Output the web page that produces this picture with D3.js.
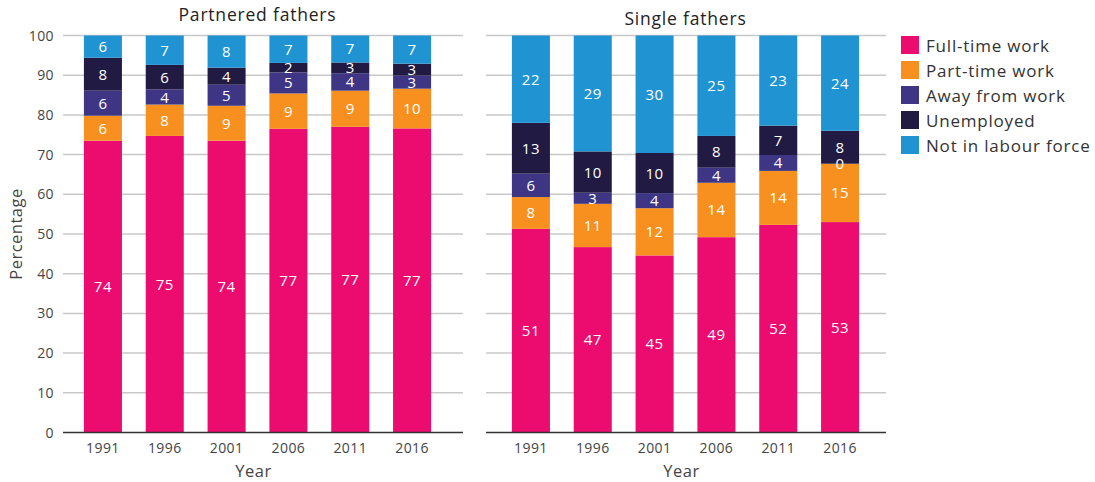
<!DOCTYPE html>
<html lang="en">
<head>
    <meta charset="UTF-8" />
    <title>Fathers' labour force status</title>
    <script src="https://d3js.org/d3.v7.min.js"></script>
    <style>
        body { margin: 0; background: #fff; }
        text { font-family: "Open Sans", "Noto Sans", sans-serif; }
    </style>
</head>
<body>
    <script>
        // years and categories
        var years = ["1991", "1996", "2001", "2006", "2011", "2016"];
        var categories = ["Full-time work", "Part-time work", "Away from work", "Unemployed", "Not in labour force"];
        var colors = ["#ec0b6f", "#f7901e", "#3e3684", "#211a42", "#2093d2"];
        var yTicks = [0, 10, 20, 30, 40, 50, 60, 70, 80, 90, 100];

        // partnered fathers (%), one array per category
        var partFullTime = [73.5, 74.7, 73.5, 76.5, 77.0, 76.6];
        var partPartTime = [6.3, 7.9, 8.8, 8.9, 9.1, 10.0];
        var partAway = [6.3, 3.8, 5.3, 5.3, 4.4, 3.3];
        var partUnemployed = [8.3, 6.2, 4.3, 2.4, 2.7, 3.0];
        var partNotInLF = [5.6, 7.4, 8.1, 6.9, 6.8, 7.1];

        // single fathers (%)
        var singFullTime = [51.3, 46.7, 44.6, 49.2, 52.3, 53.0];
        var singPartTime = [8.0, 10.9, 11.9, 13.7, 13.6, 14.7];
        var singAway = [5.9, 2.8, 3.8, 3.8, 4.0, 0.0];
        var singUnemployed = [12.8, 10.4, 10.1, 8.0, 7.4, 8.3];
        var singNotInLF = [22.0, 29.2, 29.6, 25.3, 22.7, 24.0];

        var w = 1095;
        var h = 482;

        var svg = d3.select("body")
            .append("svg")
            .attr("width", w)
            .attr("height", h);

        var yScale = d3.scaleLinear()
            .domain([0, 100])
            .range([432.5, 35.5]);

        function buildRows(series) {
            return years.map(function (y, i) {
                var row = { year: y };
                categories.forEach(function (c, j) { row[c] = series[j][i]; });
                return row;
            });
        }

        function drawPanel(gridStart, barStart, title, titleY, series, showYAxis) {
            var g = svg.append("g");
            var xScale = d3.scaleBand()
                .domain(years)
                .range([barStart, barStart + 371])
                .paddingInner(0.385)
                .paddingOuter(0.1925);

            // gridlines
            g.selectAll("line.grid")
                .data(yTicks.slice(1))
                .enter()
                .append("line")
                .attr("x1", gridStart)
                .attr("x2", gridStart + 400)
                .attr("y1", function (d) { return yScale(d); })
                .attr("y2", function (d) { return yScale(d); })
                .attr("stroke", "#c8c8c8")
                .attr("stroke-width", 1.5);

            if (showYAxis) {
                g.selectAll("text.ytick")
                    .data(yTicks)
                    .enter()
                    .append("text")
                    .attr("x", gridStart - 9)
                    .attr("y", function (d) { return yScale(d) + 5; })
                    .attr("text-anchor", "end")
                    .attr("font-size", "14px")
                    .attr("letter-spacing", "0.4px")
                    .attr("fill", "#444")
                    .text(function (d) { return d; });
            }

            var stacked = d3.stack().keys(categories)(buildRows(series));

            g.selectAll("g.layer")
                .data(stacked)
                .enter()
                .append("g")
                .attr("fill", function (d, i) { return colors[i]; })
                .selectAll("rect")
                .data(function (d) { return d; })
                .enter()
                .append("rect")
                .attr("x", function (d) { return xScale(d.data.year); })
                .attr("width", xScale.bandwidth())
                .attr("y", function (d) { return yScale(d[1]); })
                .attr("height", function (d) { return yScale(d[0]) - yScale(d[1]); });

            // labels go on top of every rect
            g.selectAll("g.lab")
                .data(stacked)
                .enter()
                .append("g")
                .selectAll("text")
                .data(function (d) { return d; })
                .enter()
                .append("text")
                .attr("x", function (d) { return xScale(d.data.year) + xScale.bandwidth() / 2; })
                .attr("y", function (d) { return yScale((d[0] + d[1]) / 2) + 5.5; })
                .attr("text-anchor", "middle")
                .attr("font-size", "15px")
                .attr("letter-spacing", "0.5px")
                .attr("fill", "#fff")
                .text(function (d) { return Math.round(d[1] - d[0]); });

            // x axis line
            g.append("line")
                .attr("x1", gridStart)
                .attr("x2", gridStart + 400)
                .attr("y1", yScale(0))
                .attr("y2", yScale(0))
                .attr("stroke", "#333")
                .attr("stroke-width", 1.5);

            g.selectAll("text.xtick")
                .data(years)
                .enter()
                .append("text")
                .attr("x", function (d) { return xScale(d) + xScale.bandwidth() / 2; })
                .attr("y", 453)
                .attr("text-anchor", "middle")
                .attr("font-size", "14px")
                .attr("letter-spacing", "0.4px")
                .attr("fill", "#444")
                .text(function (d) { return d; });

            var mid = (xScale(years[0]) + xScale(years[5]) + xScale.bandwidth()) / 2;

            g.append("text")
                .attr("x", mid - 4)
                .attr("y", 477)
                .attr("text-anchor", "middle")
                .attr("font-size", "16.5px")
                .attr("letter-spacing", "0.5px")
                .attr("fill", "#444")
                .text("Year");

            g.append("text")
                .attr("x", mid)
                .attr("y", titleY)
                .attr("text-anchor", "middle")
                .attr("font-size", "17.5px")
                .attr("letter-spacing", "0.8px")
                .attr("fill", "#222")
                .text(title);
        }

        drawPanel(63, 72, "Partnered fathers", 21,
            [partFullTime, partPartTime, partAway, partUnemployed, partNotInLF], true);
        drawPanel(486, 500, "Single fathers", 25,
            [singFullTime, singPartTime, singAway, singUnemployed, singNotInLF], false);

        svg.append("text")
            .attr("transform", "translate(22,234) rotate(-90)")
            .attr("text-anchor", "middle")
            .attr("font-size", "16.5px")
            .attr("letter-spacing", "0.5px")
            .attr("fill", "#444")
            .text("Percentage");

        // legend
        var legend = svg.selectAll("g.legend")
            .data(categories)
            .enter()
            .append("g")
            .attr("transform", function (d, i) { return "translate(901," + (36 + i * 25) + ")"; });

        legend.append("rect")
            .attr("width", 18)
            .attr("height", 18)
            .attr("fill", function (d, i) { return colors[i]; });

        legend.append("text")
            .attr("x", 25)
            .attr("y", 15.5)
            .attr("font-size", "17px")
            .attr("letter-spacing", "0.8px")
            .attr("fill", "#333")
            .text(function (d) { return d; });
    </script>
</body>
</html>
